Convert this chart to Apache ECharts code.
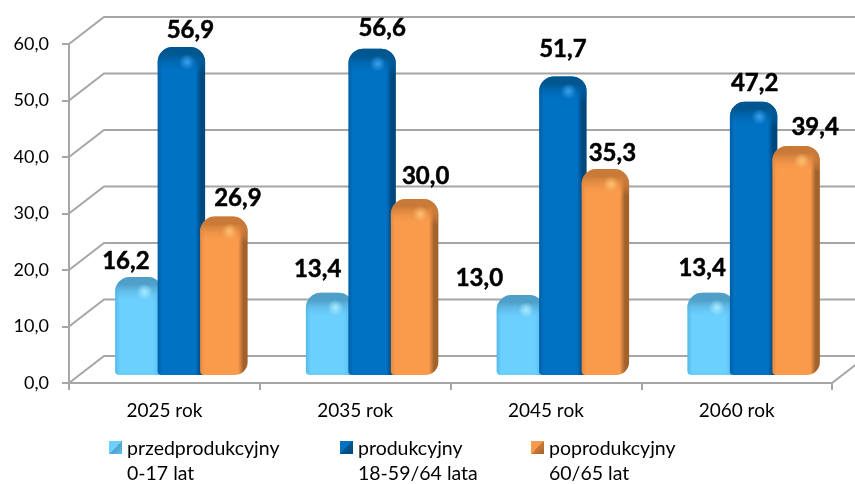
<!DOCTYPE html>
<html>
<head>
<meta charset="utf-8">
<style>html,body{margin:0;padding:0;background:#fff}#container{width:855px;height:484px}</style>
<script src="https://cdn.jsdelivr.net/npm/echarts@6/dist/echarts.min.js"></script>
</head>
<body>
<div id="container"></div>
<script>
var categories = ['2025 rok', '2035 rok', '2045 rok', '2060 rok'];
var yTicks = [0, 10, 20, 30, 40, 50, 60];
var przed = [16.2, 13.4, 13.0, 13.4];
var prod = [56.9, 56.6, 51.7, 47.2];
var poprod = [26.9, 30.0, 35.3, 39.4];
var names = ['przedprodukcyjny\n0-17 lat', 'produkcyjny\n18-59/64 lata', 'poprodukcyjny\n60/65 lat'];

// hand placed labels in the original: shift from the top middle of each bar
var labelShift = [
	[[-13, -16], [-12, -24], [-41, -17], [-9, -25]],
	[[9, -17], [10, -20], [0, -27], [1, -19]],
	[[14, -18], [11, -23], [7, -16], [19, -19]]
];
var barShift = [-25.5, 17, 59.5];
var barColors = [
	{ left: '#55b8e6', mid: '#6cd0ff', right: '#5cc0f0', top: '#4f9fc8', shine: '#a8ecff' },
	{ left: '#005ea6', mid: '#0072c4', right: '#00487c', top: '#00568f', shine: '#3aa0f0' },
	{ left: '#e88a3e', mid: '#fa9b4c', right: '#a3622c', top: '#c97a38', shine: '#ffc070' }
];
var depthX = 35, depthY = 27;
var font = 'Lato, Carlito, sans-serif';

function fmt(v) {
	return v.toFixed(1).replace('.', ',');
}

function lg(x, y, x2, y2, stops) {
	return {
		type: 'linear', x: x, y: y, x2: x2, y2: y2,
		colorStops: stops.map(function(s) { return { offset: s[0], color: s[1] }; })
	};
}

function wallItem(params, api) {
	var p = api.coord([0, api.value(0)]);
	var sys = params.coordSys;
	var y = p[1];
	var x0 = sys.x, x1 = sys.x + sys.width;
	var pts = [[x0, y], [x0 + depthX, y - depthY], [x1 + depthX, y - depthY]];
	return {
		type: 'group',
		children: [{
			type: 'polyline', shape: { points: pts },
			style: { stroke: '#a6a6a6', lineWidth: 2, fill: null }
		}]
	};
}

function floorItem(params, api) {
	var sys = params.coordSys;
	var y = sys.y + sys.height;
	var x1 = sys.x + sys.width;
	return {
		type: 'line', shape: { x1: x1, y1: y, x2: x1 + depthX, y2: y - depthY },
		style: { stroke: '#a6a6a6', lineWidth: 2 }
	};
}

function makeBar(s) {
	return function(params, api) {
		var c = barColors[s];
		var cat = api.value(0), val = api.value(1);
		var top = api.coord([cat, val]);
		var base = api.coord([cat, 0]);
		var w = 47.5, cap = 6.5;
		var x = top[0] + barShift[s] - w / 2;
		var y = top[1] - 8 - cap;
		var h = base[1] - 8 - y;
		var r = [15, 15, s == 2 ? 13 : 4, 4];
		var shape = { x: x, y: y, width: w, height: h, r: r };
		var shift = labelShift[s][cat];
		var capH = 26 / h;
		return {
			type: 'group',
			children: [
				{
					type: 'rect', shape: shape,
					style: {
						fill: lg(0, 0, 1, 0, [[0, c.left], [0.1, c.mid], [0.8, c.mid], [0.91, c.right], [1, c.right]])
					}
				},
				{
					type: 'rect', shape: shape,
					style: {
						fill: lg(0, 0, 0, 1, [[0, c.top], [0.28 * capH, c.top], [capH, c.mid + '00'], [1, c.mid + '00']])
					}
				},
				{
					type: 'circle',
					shape: { cx: x + w * 0.62, cy: y + 15, r: 8 },
					style: {
						fill: {
							type: 'radial', x: 0.5, y: 0.5, r: 0.5,
							colorStops: [{ offset: 0, color: c.shine }, { offset: 1, color: c.shine + '00' }]
						}
					}
				},
				{
					type: 'text', z2: 10,
					style: {
						text: fmt(val),
						x: x + w / 2 + shift[0], y: y + shift[1],
						align: 'center', verticalAlign: 'middle',
						fill: '#000', font: 'bold 24px ' + font,
						stroke: '#000', lineWidth: 0.5
					}
				}
			]
		};
	};
}

function barSeries(name, values, s) {
	return {
		name: name,
		type: 'custom',
		renderItem: makeBar(s),
		animation: false,
		silent: true,
		z: 5 + s,
		itemStyle: { color: barColors[s].mid },
		encode: { x: 0, y: 1 },
		data: values.map(function(v, i) { return [i, v]; })
	};
}

// tall icon box with the square at its top, so the square lines up with the first text line
function legendOf(name, s, left) {
	var c = barColors[s];
	return {
		left: left, top: 436, padding: 0,
		itemWidth: 13, itemHeight: 40, itemGap: 0,
		icon: 'path://M0 0H13V13H0Z M0 40L0 40Z',
		data: [{
			name: name,
			itemStyle: { color: lg(0, 0, 1, 13 / 40, [[0, c.mid], [0.5, c.mid], [0.5, c.top], [1, c.right]]) }
		}],
		selectedMode: false,
		textStyle: {
			fontFamily: font, fontSize: 19.5, color: '#000',
			lineHeight: 25
		}
	};
}

var myChart = echarts.init(document.getElementById('container'));
var option = {
	animation: false,
	grid: { left: 69, right: 23, top: 44, bottom: 101 },
	legend: [legendOf(names[0], 0, 109), legendOf(names[1], 1, 340), legendOf(names[2], 2, 531)],
	xAxis: [{
		type: 'category',
		data: categories,
		axisLine: { lineStyle: { color: '#a6a6a6', width: 2 } },
		axisTick: { show: true, length: 7, lineStyle: { color: '#a6a6a6', width: 2 } },
		axisLabel: { color: '#000', fontFamily: font, fontSize: 19, margin: 18 },
		splitLine: { show: false }
	}],
	yAxis: [{
		type: 'value',
		min: 0, max: 60, interval: 10,
		axisLine: { show: true, lineStyle: { color: '#a6a6a6', width: 2 } },
		axisTick: { show: true, length: 7, lineStyle: { color: '#a6a6a6', width: 2 } },
		axisLabel: {
			color: '#000', fontFamily: font, fontSize: 18, margin: 20,
			formatter: function(v) { return fmt(v); }
		},
		splitLine: { show: false }
	}],
	series: [
		{
			type: 'custom', renderItem: wallItem, silent: true, z: 1, clip: false,
			encode: { y: 0 }, data: yTicks.map(function(v) { return [v]; })
		},
		{
			type: 'custom', renderItem: floorItem, silent: true, z: 1, clip: false,
			data: [[0]]
		},
		barSeries(names[0], przed, 0),
		barSeries(names[1], prod, 1),
		barSeries(names[2], poprod, 2)
	]
};
myChart.setOption(option);
</script>
</body>
</html>
